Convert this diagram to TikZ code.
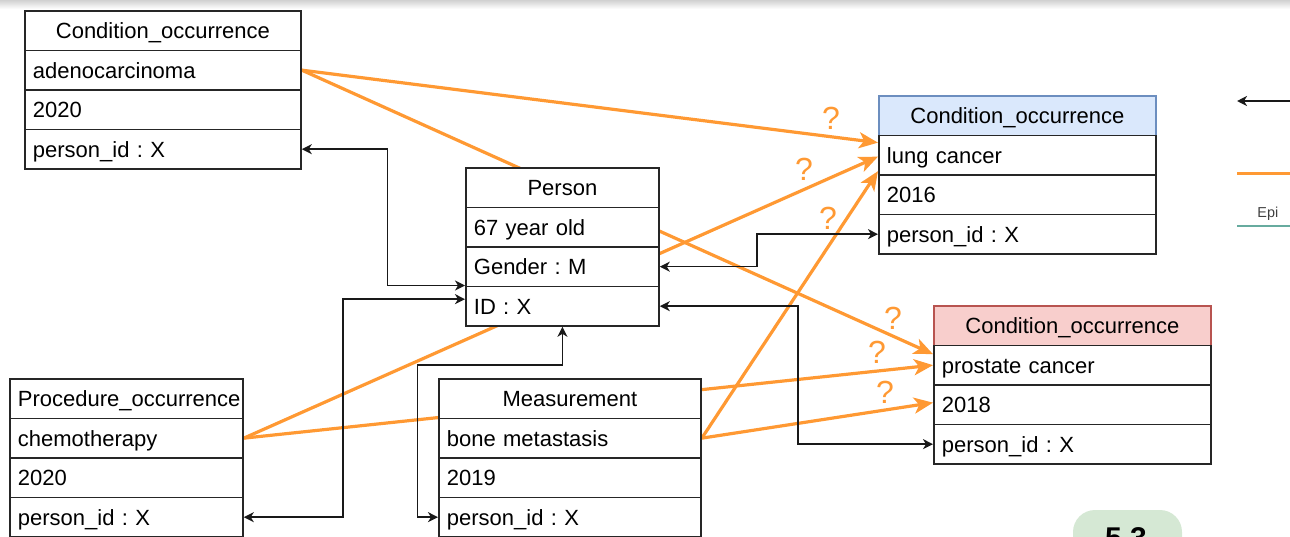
\documentclass[tikz,border=0pt]{standalone}
\usepackage{fontspec}
\setmainfont{Liberation Sans}
\frenchspacing
\usetikzlibrary{arrows.meta,backgrounds}
\definecolor{orng}{HTML}{FF9933}
\definecolor{bluef}{HTML}{DAE8FC}
\definecolor{blued}{HTML}{6C8EBF}
\definecolor{redf}{HTML}{F8CECC}
\definecolor{redd}{HTML}{B85450}
\definecolor{grnf}{HTML}{D5E8D4}
\definecolor{tealc}{HTML}{67AB9F}
\tikzset{
  cell/.style={draw=black!85, line width=0.9pt, fill=white, rectangle, anchor=north west,
    inner xsep=4pt, inner ysep=0pt, minimum height=19.75pt, text height=10.5pt, text depth=2.5pt,
    font=\fontsize{11}{13}\selectfont},
  hdrblue/.style={fill=bluef, draw=blued},
  hdrred/.style={fill=redf, draw=redd},
  hdrplain/.style={},
  btip/.tip={Stealth[length=5pt,width=5pt,inset=1.5pt]},
  otip/.tip={Stealth[length=9.5pt,width=8pt,inset=2.5pt]},
  oarr/.style={draw=orng, line width=1.6pt, -otip},
  blk/.style={draw=black!90, line width=0.8pt},
  qm/.style={text=orng, font=\fontsize{16}{18}\selectfont, inner sep=0pt},
}
\newcommand\mktable[9]{%
  \pgfmathsetmacro\tblw{#4*0.5}%
  \pgfmathsetmacro\tbltw{#4*0.5-8}%
  \node[cell,#5,minimum width=\tblw pt,text width=\tbltw pt,align=center] (#1h) at (#2,#3) {#6};
  \node[cell,minimum width=\tblw pt,text width=\tbltw pt,align=left] (#1a) at (#2,#3+39.5) {#7};
  \node[cell,minimum width=\tblw pt,text width=\tbltw pt,align=left] (#1b) at (#2,#3+79) {#8};
  \node[cell,minimum width=\tblw pt,text width=\tbltw pt,align=left] (#1c) at (#2,#3+118.5) {#9};
}
\begin{document}
\begin{tikzpicture}[x=0.5pt,y=-0.5pt]
\useasboundingbox (0,0) rectangle (1290,536);
\clip (0,0) rectangle (1290,536);
\shade[top color=black!18, bottom color=white] (0,0) rectangle (1290,9);

% tables
\mktable{c1}{24}{10}{276}{hdrplain}{Condition\_occurrence}{adenocarcinoma}{2020}{person\_id : X}
\mktable{pers}{465}{167}{193}{hdrplain}{Person}{67 year old}{Gender : M}{ID : X}
\mktable{lung}{878}{95}{277}{hdrblue}{Condition\_occurrence}{lung cancer}{2016}{person\_id : X}
\mktable{prost}{933}{305}{277}{hdrred}{Condition\_occurrence}{prostate cancer}{2018}{person\_id : X}
\mktable{proc}{9}{378}{233}{hdrplain}{Procedure\_occurrence}{chemotherapy}{2020}{person\_id : X}
\mktable{meas}{438}{378}{262}{hdrplain}{Measurement}{bone metastasis}{2019}{person\_id : X}

% orange relations (behind the tables)
\begin{pgfonlayer}{background}
  \draw[oarr] (c1a.east) -- ([yshift=6.25pt]lunga.west);
  \draw[oarr] (c1a.east) -- ([yshift=5.5pt]prosta.west);
  \draw[oarr] (proca.east) -- ([yshift=-0.75pt]lunga.west);
  \draw[oarr] (proca.east) -- (prosta.west);
  \draw[oarr] (measa.east) -- ([yshift=-8pt]lunga.west);
  \draw[oarr] (measa.east) -- ([yshift=1pt]prostb.west);
\end{pgfonlayer}

% question marks
\node[qm] (qa) at (831,118) {?};
\node[qm] (qc) at (804,169) {?};
\node[qm] (qe) at (828,218) {?};
\node[qm] (qb) at (893,318) {?};
\node[qm] (qd) at (877,352) {?};
\node[qm] (qf) at (885,392) {?};

% black id links
\draw[blk,btip-btip] (c1c.east) -- ++(85.5,0) |- (persc.north west);
\draw[blk,btip-btip] (procc.east) -- ++(99,0) |- ([yshift=3.5pt]persc.west);
\draw[blk,btip-btip] (measc.west) -| ++(-20.5,-152) -| (persc.south);
\draw[blk,btip-btip] (persb.east) -- ++(97,0) |- (lungc.west);
\draw[blk,btip-btip] (persc.east) -- ++(138,0) |- (prostc.west);

% legend (cut off at the right edge)
\coordinate (lg1s) at (1290,101);
\coordinate (lg1e) at (1237,101);
\draw[blk,-btip] (lg1s) -- (lg1e);
\coordinate (lg2s) at (1237,173.5);
\coordinate (lg2e) at (1290,173.5);
\draw[draw=orng,line width=1.6pt] (lg2s) -- (lg2e);
\node[font=\fontsize{7.2}{8}\selectfont, text=black!75, anchor=base west, inner sep=0pt] (epi) at (1257,217) {Epi};
\coordinate (lg3s) at (1237,226);
\coordinate (lg3e) at (1290,226);
\draw[tealc, line width=0.6pt] (lg3s) -- (lg3e);

% page badge
\fill[grnf, rounded corners=11pt] (1073,510) rectangle (1182,590);
\node[font=\bfseries\fontsize{15}{18}\selectfont, anchor=base, inner sep=0pt] (bnum) at (1126,548.5) {5.3};
\end{tikzpicture}
\end{document}
